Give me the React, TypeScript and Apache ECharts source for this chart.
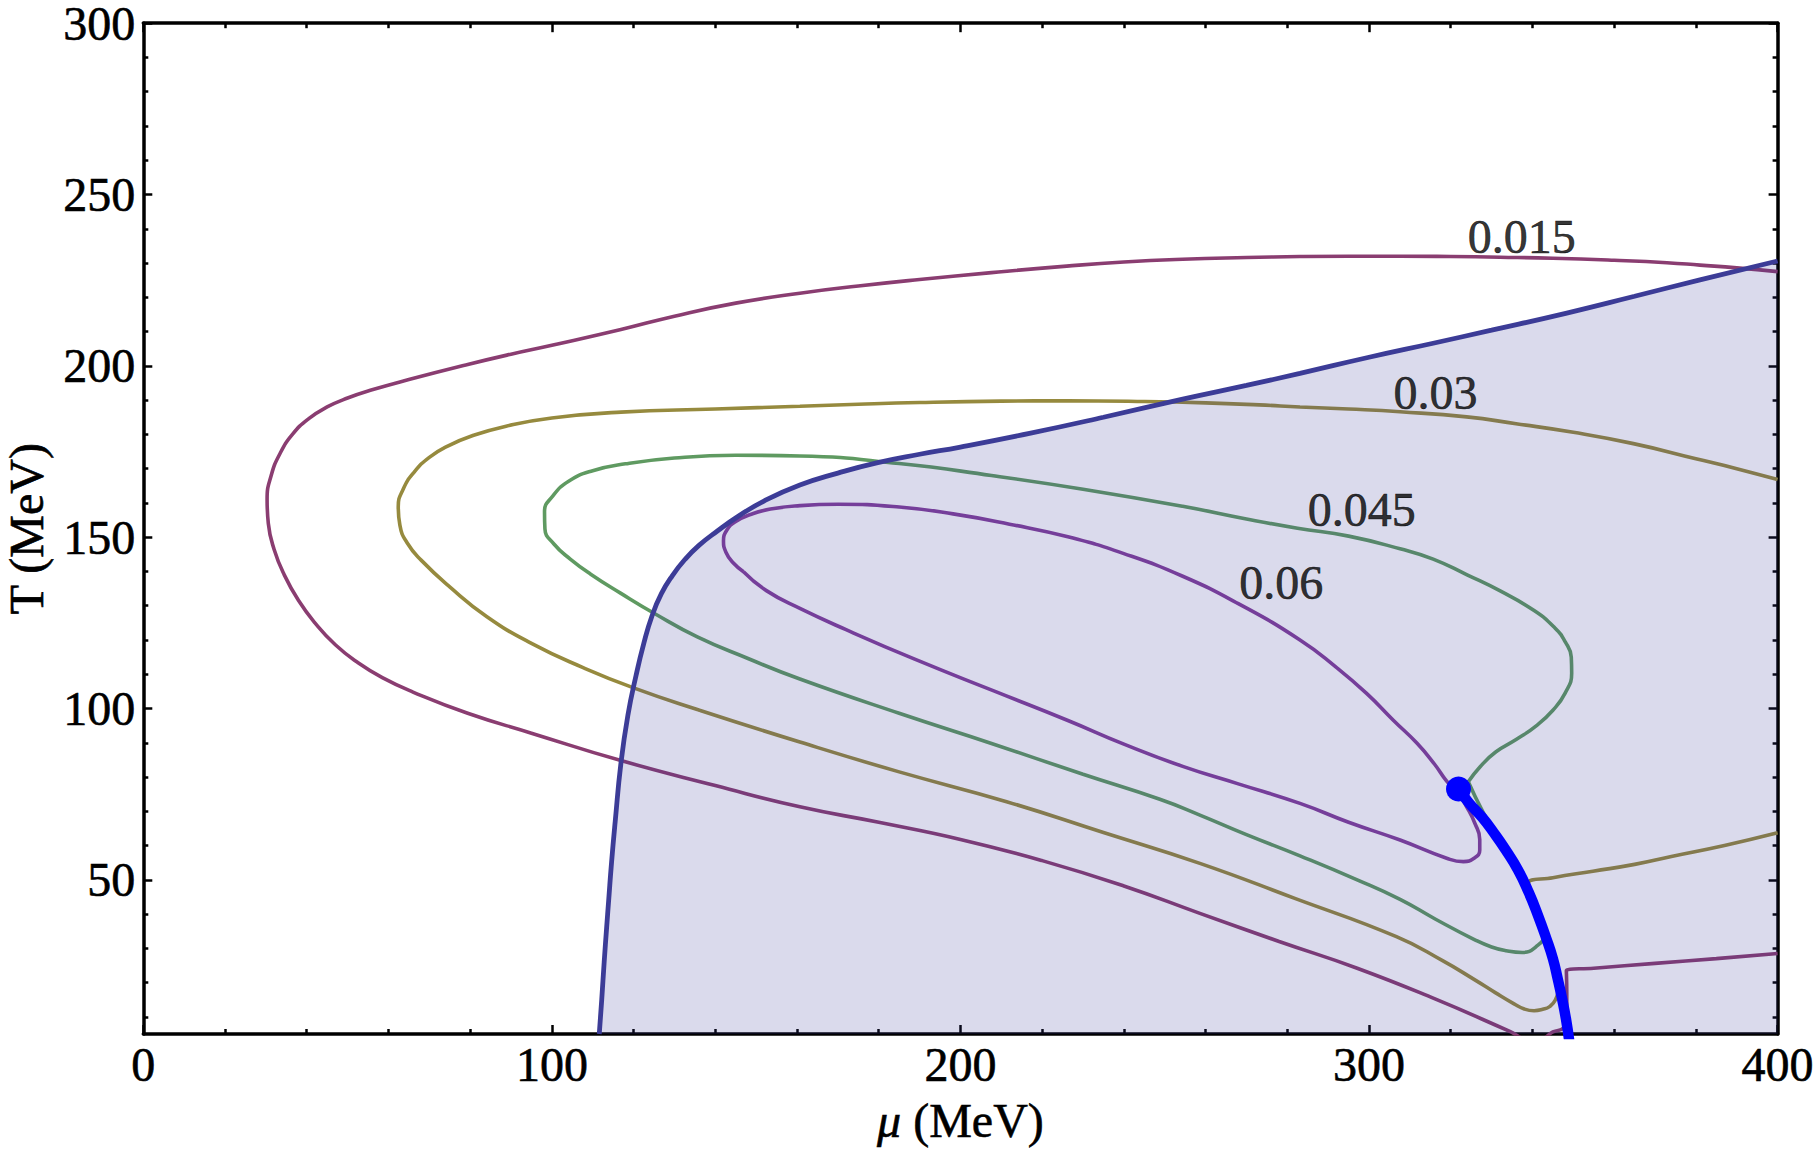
import React, { useEffect, useRef } from 'react';
import * as echarts from 'echarts';

const FONT = "'Liberation Serif', 'Times New Roman', Times, serif";

const X_RANGE = [0, 400];
const Y_RANGE = [5, 300];
const xMajorTicks = [0, 100, 200, 300, 400];
const xMinorTicks = [20, 40, 60, 80, 120, 140, 160, 180, 220, 240, 260, 280, 320, 340, 360, 380];
const yMajorTicks = [50, 100, 150, 200, 250, 300];
const yMinorTicks = [10, 20, 30, 40, 60, 70, 80, 90, 110, 120, 130, 140, 160, 170, 180, 190, 210, 220, 230, 240, 260, 270, 280, 290];

const contour015 = [
  [400, 227.5], [390, 228.6], [381, 229.4], [372.9, 230.1], [360, 230.8], [345, 231.4], [332.1, 231.7], [320, 231.9],
  [307.6, 232], [295, 232], [283.1, 231.9], [270, 231.6], [254.4, 231.1], [240, 230.3], [226, 229.1], [207.6, 227.2],
  [190, 225.2], [175, 223.3], [160.7, 221.2], [145, 218.3], [130, 214.5], [116.9, 210.6], [100, 206], [90, 203.4],
  [79.4, 200.4], [65, 196], [56, 193], [50, 190.6], [45, 188], [40.5, 184.6], [36.5, 180], [33.5, 174.5], [31.3, 168],
  [30.3, 161], [30.6, 154], [32, 146.5], [34.5, 139], [38, 131.5], [42, 125], [47, 118.6], [52.5, 113.4], [58.5, 109],
  [66, 104.8], [79.4, 98.6], [95, 92.8], [116.9, 84.8], [140, 77.5], [160.7, 71.3], [180, 66.8], [200, 61.8], [220, 55.6],
  [240, 48.2], [258.6, 40.2], [278, 32], [297.1, 24.2], [316, 15.3], [334.6, 5.7], [338.5, 3.6], [342, 3.6], [345, 5.6],
  [347.6, 6.8], [348.4, 10], [348.4, 17], [348.3, 23.5], [355, 24.2], [370, 25.6], [385, 27], [400, 28.5],
];

const contour03 = [
  [400, 166.8], [390, 170], [380, 172.9], [364.7, 177.3], [350, 180.6], [336, 183.1], [323.9, 185.1], [307.6, 186.6],
  [295, 187.4], [283.1, 188], [273.1, 188.6], [260, 189.2], [245, 189.6], [226.3, 189.8], [210, 189.7], [190, 189.3],
  [175, 188.8], [160.7, 188.2], [140, 187.4], [116.9, 186.5], [100, 184.8], [88.8, 182.4], [80.5, 179.6], [74.5, 176.6],
  [70, 173.3], [66.3, 169], [63.6, 164], [62.4, 158.9], [62.8, 153.5], [64.6, 148.3], [68, 143.3], [75, 135.5],
  [84.1, 126.8], [95, 119], [107.5, 112], [120, 106], [135.6, 99.7], [160.7, 90.2], [185, 81.5], [211.3, 72.8],
  [235, 63.8], [258.6, 54.8], [282, 44.5], [306.7, 33.4], [318, 26.4], [325.9, 20.8], [331, 17], [335.5, 13.8],
  [338, 12.3], [340.4, 11.8], [342.5, 12.2], [344.2, 13], [345.6, 14.9], [346.2, 18], [345.2, 24], [344, 30],
  [342.5, 36], [340.8, 42.5], [339, 49], [345, 50.6], [354.8, 52.5], [365, 54.5], [374, 56.8], [387, 60], [400, 63.7],
];

const contour045 = [
  [324.3, 78.6], [327.2, 83], [331, 87.3], [336.1, 91], [341, 95], [345, 99.5], [348, 104.5], [349.6, 110.3],
  [349.5, 115], [348, 119.5], [345.5, 123.5], [340.5, 128.5], [332.1, 134.3], [324, 139], [315.7, 143.6],
  [307.6, 146.6], [295, 150.3], [282.5, 152.6], [270, 155.3], [254.4, 159], [230, 164], [207.6, 168], [185, 171.5],
  [160.7, 173.7], [145, 173.9], [130, 173.1], [118, 171.4], [110, 169.4], [104.2, 166.4], [100.2, 162], [98.2, 157.4],
  [98.3, 152.4], [100.5, 148], [104.5, 143.6], [109.5, 139.2], [116.9, 133.6], [125, 127.8], [135.6, 120.9], [148, 114.6],
  [160.7, 108.6], [185, 98.6], [207.6, 89.8], [230, 80.8], [248.8, 73.5], [258.6, 68.9], [270, 63.2], [283.1, 57],
  [297.1, 50], [307.6, 44.3], [316.3, 38.5], [325.9, 32.5], [330, 30.4], [333.6, 29.3], [337.5, 28.8], [340.9, 30.5],
  [342.8, 33.9], [341.5, 39.5], [339, 46], [335.5, 54.5], [331.5, 62.5], [327.8, 70], [324.3, 78.6],
];

const contour06 = [
  [146.9, 139.9], [144.3, 142.6], [142.6, 145.6], [142, 148.9], [142.8, 152], [145, 154.6], [148.6, 156.6],
  [153.5, 158.2], [160.7, 159.2], [170.1, 159.6], [185, 158.8], [198.2, 156.8], [212, 153.8], [226.3, 150.1],
  [240, 145.2], [254.4, 138.6], [268, 130.6], [283.1, 120], [292, 112], [299.4, 104.4], [306, 96.5], [311.7, 89.9],
  [316, 83.8], [319, 78.8], [321.9, 75.2], [323.9, 71.3], [325.9, 66.5], [327.1, 61.8], [327.1, 58.6], [325.7, 56.3],
  [323.1, 55.3], [319, 56.3], [307.6, 61.6], [295, 66.8], [283.1, 72.3], [268, 78], [254.4, 83.1], [240, 89.6],
  [226.3, 96.5], [208, 105.2], [188.8, 114.4], [172, 123], [160.7, 129.2], [152.5, 134.4], [146.9, 139.9],
];

const phaseBoundary = [
  [111.6, 5], [112.2, 15], [112.8, 26], [113.4, 36], [113.9, 44], [114.6, 55], [115.5, 67], [116.9, 84],
  [118.6, 98], [120.6, 109.6], [122.5, 119], [124.5, 127], [126.8, 133.5], [129.5, 138.8], [132.5, 143.4],
  [136, 147.6], [140.5, 151.8], [145.5, 156], [152, 160.6], [160.7, 165.2], [170, 168.7], [179.5, 171.7], [190, 174.2],
  [200, 176.3], [216.9, 180.3], [235, 185], [254.4, 190.3], [270, 194.3], [283.1, 197.8], [300, 202.5],
  [315.7, 206.6], [330, 210.4], [348.4, 215.4], [365, 220.3], [381, 225.1], [400, 230.6],
];

const firstOrderLine = [
  [321.9, 76.5], [324.5, 72.4], [327.7, 68.2], [330.5, 63.8], [333.4, 58.8], [336.5, 52.8], [339.1, 46.3],
  [341.3, 39.8], [343.3, 33.2], [345, 27], [346.2, 21], [347.3, 15], [348.2, 9.4], [349, 3],
];

const criticalPoint = [321.9, 76.5];

const labelNames = ['0.015', '0.03', '0.045', '0.06'];
const labelPositions = [
  [337.4, 237.7],
  [316.3, 192.2],
  [298.2, 158.1],
  [278.5, 136.9],
];

const contourNames = ['0.015', '0.03', '0.045', '0.06'];
const contourColors = ['#8a3d71', '#968a3e', '#5f9a61', '#84409b'];

const TEXT_STYLE = {
  color: '#000',
  fontFamily: FONT,
  fontSize: 48,
  textBorderColor: '#000',
  textBorderWidth: 0.6,
};

function makeXAxis(position: 'top' | 'bottom', ticks: number[], len: number, showLine: boolean, withLabel: boolean) {
  const ax: any = {
    type: 'value',
    position,
    min: X_RANGE[0],
    max: X_RANGE[1],
    splitLine: { show: false },
    axisLine: { show: showLine, onZero: false, lineStyle: { color: '#000', width: 3.5 } },
    axisTick: { show: true, inside: true, length: len, customValues: ticks, lineStyle: { color: '#000', width: 2.5 } },
    axisLabel: withLabel
      ? { show: true, customValues: ticks, margin: 6, ...TEXT_STYLE }
      : { show: false },
  };
  if (withLabel) {
    ax.name = '{i|μ} (MeV)';
    ax.nameLocation = 'middle';
    ax.nameGap = 62;
    ax.nameTextStyle = {
      ...TEXT_STYLE,
      rich: { i: { ...TEXT_STYLE, fontStyle: 'italic' } },
    };
  }
  return ax;
}

function makeYAxis(position: 'left' | 'right', ticks: number[], len: number, showLine: boolean, withLabel: boolean) {
  const ax: any = {
    type: 'value',
    position,
    min: Y_RANGE[0],
    max: Y_RANGE[1],
    splitLine: { show: false },
    axisLine: { show: showLine, onZero: false, lineStyle: { color: '#000', width: 3.5 } },
    axisTick: { show: true, inside: true, length: len, customValues: ticks, lineStyle: { color: '#000', width: 2.5 } },
    axisLabel: withLabel
      ? { show: true, customValues: ticks, margin: 8, ...TEXT_STYLE, lineHeight: 36 }
      : { show: false },
  };
  if (withLabel) {
    ax.name = 'T (MeV)';
    ax.nameLocation = 'middle';
    ax.nameGap = 97;
    ax.nameTextStyle = { ...TEXT_STYLE, lineHeight: 40 };
  }
  return ax;
}

export default function App() {
  const ref = useRef<HTMLDivElement>(null);

  useEffect(() => {
    if (!ref.current) return;
    const chart = echarts.init(ref.current, undefined, { renderer: 'svg' });

    const contourSeries = [contour015, contour03, contour045, contour06].map((pts, i) => ({
      name: contourNames[i],
      type: 'line',
      data: pts,
      showSymbol: false,
      smooth: 0.5,
      z: 2,
      lineStyle: { color: contourColors[i], width: 3.6 },
      silent: true,
    }));

    const option: any = {
      animation: false,
      backgroundColor: '#fff',
      grid: { left: 143.3, right: 38.4, top: 23.2, bottom: 122, containLabel: false, outerBoundsMode: 'none' },
      xAxis: [
        makeXAxis('bottom', xMajorTicks, 9, true, true),
        makeXAxis('bottom', xMinorTicks, 5, false, false),
        makeXAxis('top', xMajorTicks, 9, true, false),
        makeXAxis('top', xMinorTicks, 5, false, false),
      ],
      yAxis: [
        makeYAxis('left', yMajorTicks, 9, true, true),
        makeYAxis('left', yMinorTicks, 5, false, false),
        makeYAxis('right', yMajorTicks, 9, true, false),
        makeYAxis('right', yMinorTicks, 5, false, false),
      ],
      series: [
        ...contourSeries,
        {
          name: 'region',
          type: 'line',
          data: phaseBoundary,
          showSymbol: false,
          smooth: 0.5,
          z: 3,
          lineStyle: { color: '#3c3c97', width: 4.8 },
          areaStyle: { color: 'rgba(55,55,150,0.185)', opacity: 1, origin: 'start' },
          silent: true,
        },
        {
          name: 'first order',
          type: 'line',
          data: firstOrderLine,
          showSymbol: false,
          smooth: 0.5,
          z: 4,
          lineStyle: { color: '#0000ff', width: 10.5 },
          silent: true,
        },
        {
          name: 'critical point',
          type: 'scatter',
          data: [criticalPoint],
          symbolSize: 25,
          z: 5,
          itemStyle: { color: '#0000ff', opacity: 1 },
          silent: true,
        },
        {
          name: 'labels',
          type: 'scatter',
          data: labelNames.map((n, i) => ({ name: n, value: labelPositions[i] })),
          symbolSize: 0,
          z: 6,
          label: {
            show: true,
            position: 'inside',
            formatter: '{b}',
            ...TEXT_STYLE,
          },
          silent: true,
        },
      ],
    };

    chart.setOption(option);
    return () => chart.dispose();
  }, []);

  return (
    <div
      ref={ref}
      style={{ position: 'fixed', left: 0, top: 0, width: '1816px', height: '1156px', background: '#fff' }}
    />
  );
}
